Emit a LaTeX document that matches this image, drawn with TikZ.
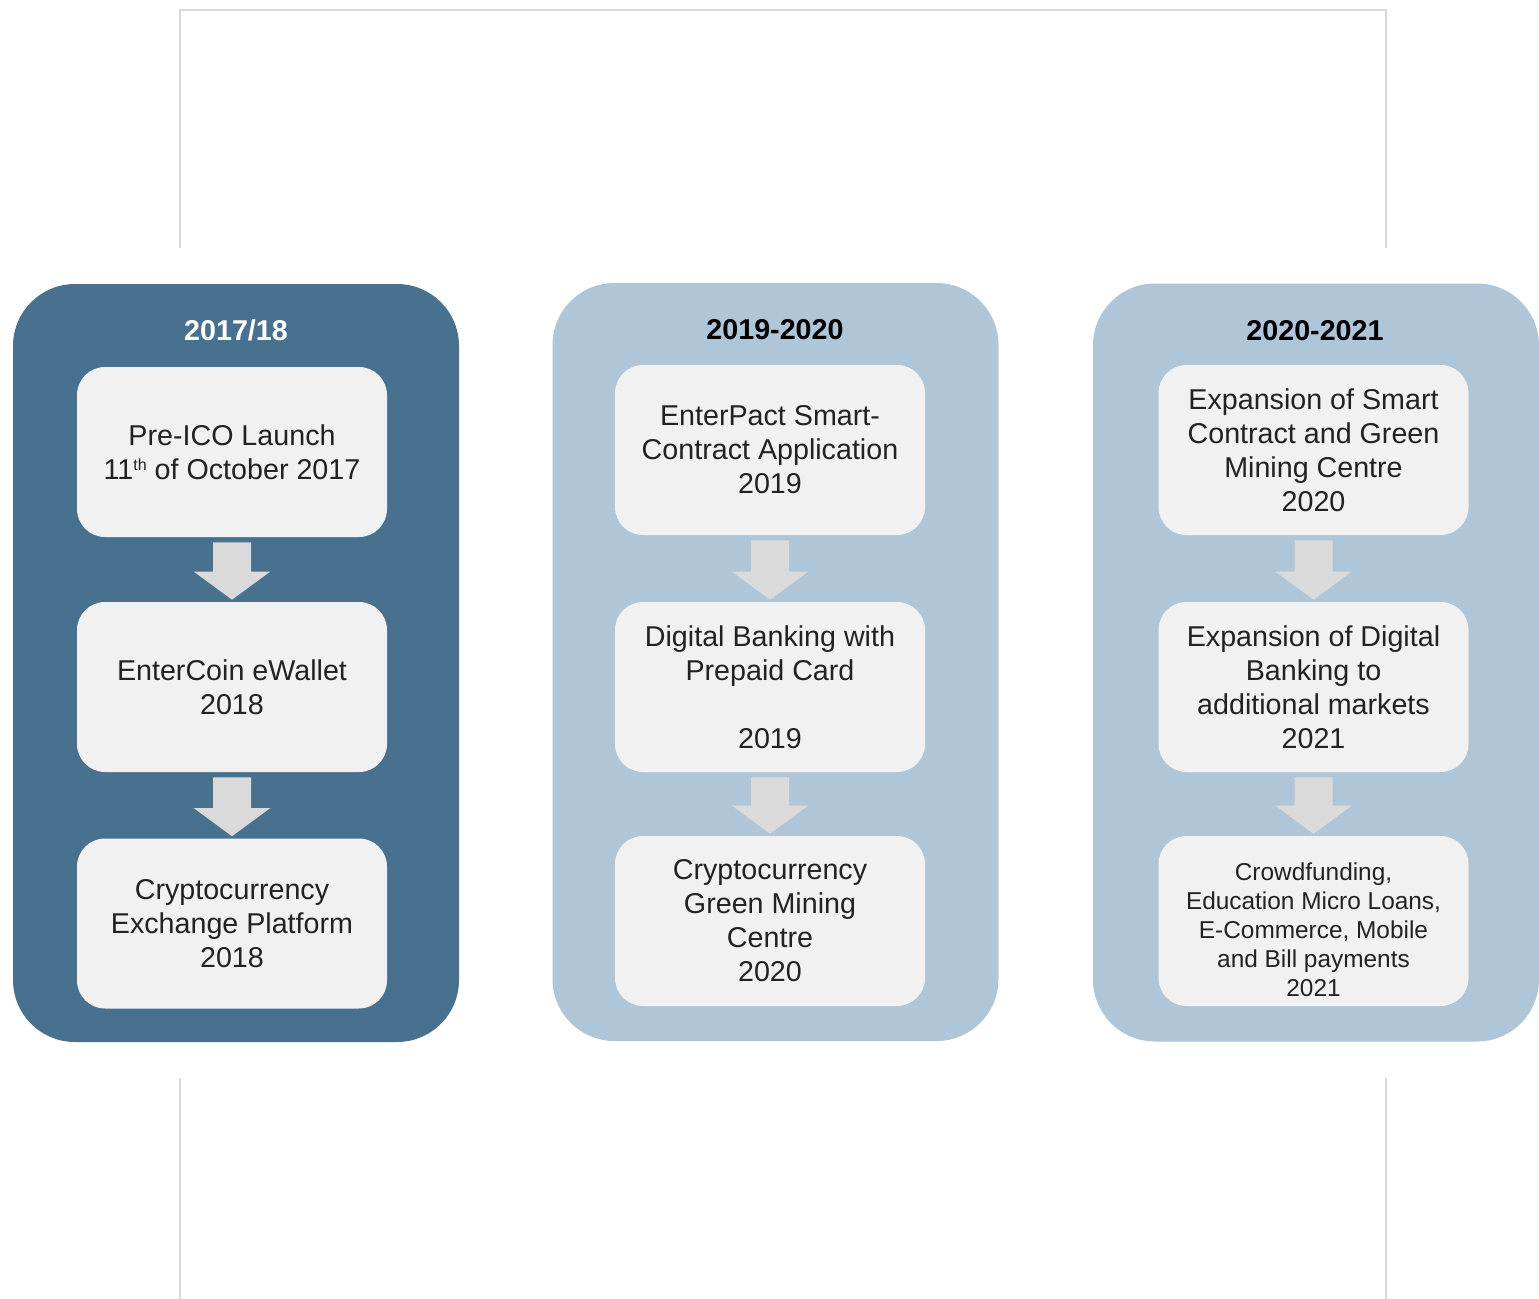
\documentclass[tikz,border=0pt]{standalone}
\usepackage{fontspec}
\setmainfont{Liberation Sans}
\usetikzlibrary{calc}
\definecolor{darkpanel}{RGB}{72,112,143}
\definecolor{lightpanel}{RGB}{175,198,216}
\definecolor{boxfill}{RGB}{241,241,241}
\definecolor{arrowgray}{RGB}{218,218,218}
\definecolor{framegray}{RGB}{217,217,217}
\definecolor{txt}{RGB}{34,34,34}
\newcommand\flowarrow[2]{%
  \fill[arrowgray] ($(#1.south)+(-19,5)$) -- ($(#1.south)+(19,5)$) -- ($(#2.north)+(19,-30)$) -- ($(#2.north)+(38,-30)$) -- ($(#2.north)+(0,-2)$) -- ($(#2.north)+(-38,-30)$) -- ($(#2.north)+(-19,-30)$) -- cycle;}
\newcommand\smallsup[1]{\raisebox{6.5pt}{\fontsize{12}{12}\selectfont #1}}
\begin{document}
\begin{tikzpicture}[x=0.75pt,y=-0.75pt,
  panel/.style={rounded corners=46.5pt, minimum width=334.5pt, minimum height=568.5pt, inner sep=0pt},
  item/.style={rounded corners=21pt, fill=boxfill, minimum width=232.5pt, minimum height=127.5pt, align=center, inner sep=0pt, text=txt, font=\fontsize{21.5}{25.5}\selectfont},
  smalltext/.style={align=center, inner sep=0pt, text=txt, font=\fontsize{18.3}{21.75}\selectfont},
  title/.style={font=\bfseries\fontsize{21.5}{25.5}\selectfont, inner sep=0pt},
  frame/.style={draw=framegray, line width=1.5pt}]
\useasboundingbox (0,0) rectangle (1539,1299);
% frame lines
\coordinate (f1) at (180,248);
\coordinate (f2) at (180,10);
\coordinate (f3) at (1386,10);
\coordinate (f4) at (1386,248);
\coordinate (g1) at (180,1078);
\coordinate (g2) at (180,1299);
\coordinate (g3) at (1386,1078);
\coordinate (g4) at (1386,1299);
\draw[frame] (f1) -- (f2) -- (f3) -- (f4);
\draw[frame] (g1) -- (g2);
\draw[frame] (g3) -- (g4);
% panels
\node[panel, fill=darkpanel] (p1) at (236,663) {};
\node[panel, fill=lightpanel] (p2) at (775.5,662) {};
\node[panel, fill=lightpanel] (p3) at (1316,662.5) {};
% titles
\node[title, text=white] (t1) at (236,330) {2017/18};
\node[title, text=black] (t2) at (775,330) {2019-2020};
\node[title, text=black] (t3) at (1315,331) {2020-2021};
% column 1
\node[item] (a1) at (232,452) {Pre-ICO Launch\\11\smallsup{th} of October 2017};
\node[item] (a2) at (232,687) {EnterCoin eWallet\\2018};
\node[item] (a3) at (232,923.5) {Cryptocurrency\\Exchange Platform\\2018};
% column 2
\node[item] (b1) at (770,450) {EnterPact Smart-\\Contract Application\\2019};
\node[item] (b2) at (770,687) {Digital Banking with\\Prepaid Card\\[25.5pt]2019};
\node[item] (b3) at (770,921) {Cryptocurrency\\Green Mining\\Centre\\2020};
% column 3
\node[item] (c1) at (1313.5,450) {Expansion of Smart\\Contract and Green\\Mining Centre\\2020};
\node[item] (c2) at (1313.5,687) {Expansion of Digital\\Banking to\\additional markets\\2021};
\node[item] (c3) at (1313.5,921) {};
\node[smalltext] (c3t) at (1313.5,930) {Crowdfunding,\\Education Micro Loans,\\E-Commerce, Mobile\\and Bill payments\\2021};
% arrows
\flowarrow{a1}{a2}
\flowarrow{a2}{a3}
\flowarrow{b1}{b2}
\flowarrow{b2}{b3}
\flowarrow{c1}{c2}
\flowarrow{c2}{c3}
\end{tikzpicture}
\end{document}
